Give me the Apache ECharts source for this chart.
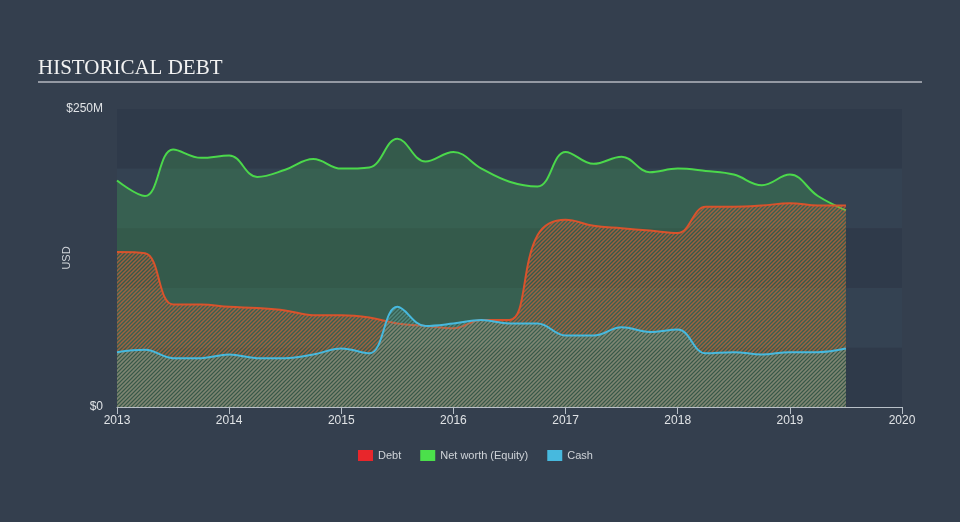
<!DOCTYPE html>
<html>
<head>
<meta charset="utf-8">
<script src="https://cdn.jsdelivr.net/npm/echarts@6/dist/echarts.min.js"></script>
<style>
html,body{margin:0;padding:0;background:#343f4e;}
#c{width:960px;height:522px;}
</style>
</head>
<body>
<div id="c"></div>
<script>
const dates = [2013, 2013.25, 2013.5, 2013.75, 2014, 2014.25, 2014.5, 2014.75, 2015, 2015.25, 2015.5, 2015.75, 2016, 2016.25, 2016.5, 2016.75, 2017, 2017.25, 2017.5, 2017.75, 2018, 2018.25, 2018.5, 2018.75, 2019, 2019.25, 2019.5];
const debt = [130, 129, 86, 86, 84, 83, 81, 77, 77, 75, 70, 68, 66, 73, 73, 144, 157, 152, 150, 148, 146, 168, 168, 169, 171, 169, 169];
const equity = [190, 177, 216, 209, 211, 193, 199, 208, 200, 201, 225, 206, 214, 200, 189, 185, 214, 204, 210, 197, 200, 198, 195, 186, 195, 177, 165];
const cash = [46, 48, 41, 41, 44, 41, 41, 44, 49, 45, 84, 68, 70, 73, 70, 70, 60, 60, 67, 63, 65, 45, 46, 44, 46, 46, 49];
const seriesNames = ['Debt', 'Net worth (Equity)', 'Cash'];
const yearTicks = [2013, 2014, 2015, 2016, 2017, 2018, 2019, 2020];

function hatch(color) {
  const s = 4;
  const cv = document.createElement('canvas');
  cv.width = s; cv.height = s;
  const ctx = cv.getContext('2d');
  ctx.strokeStyle = color;
  ctx.lineWidth = 1.5;
  ctx.beginPath();
  ctx.moveTo(0, s); ctx.lineTo(s, 0);
  ctx.moveTo(-1, 1); ctx.lineTo(1, -1);
  ctx.moveTo(s - 1, s + 1); ctx.lineTo(s + 1, s - 1);
  ctx.stroke();
  return { image: cv, repeat: 'repeat' };
}
const pair = arr => dates.map((d, i) => [d, arr[i]]);

const chart = echarts.init(document.getElementById('c'), null, { renderer: 'canvas' });
chart.setOption({
  backgroundColor: '#343f4e',
  animation: false,
  title: {
    text: 'HISTORICAL DEBT', left: 38, top: 58, padding: 0,
    textStyle: { fontFamily: 'Liberation Serif', fontSize: 21, fontWeight: 'normal', color: '#f2f2f2' }
  },
  graphic: [{
    type: 'line', shape: { x1: 38, y1: 82, x2: 922, y2: 82 },
    style: { stroke: '#b4b9c0', lineWidth: 1.5 }
  }],
  legend: {
    top: 450, left: 358, padding: 0, itemWidth: 15, itemHeight: 11, itemGap: 19, icon: 'rect',
    textStyle: { color: '#d0d4d9', fontSize: 11, fontFamily: 'Liberation Sans', padding: [0, 0, 0, 0] },
    data: seriesNames
  },
  grid: { left: 117, right: 58, top: 109, bottom: 115 },
  xAxis: {
    type: 'value', min: 2013, max: 2020, interval: 1,
    axisLine: { lineStyle: { color: '#b8c0c8', width: 1 } },
    axisTick: { length: 7, lineStyle: { color: '#b8c0c8' } },
    splitLine: { show: false },
    axisLabel: { color: '#e0e3e6', fontSize: 12, fontFamily: 'Liberation Sans', margin: 8,
      formatter: v => yearTicks.includes(v) ? String(v) : '' }
  },
  yAxis: {
    type: 'value', min: 0, max: 250, interval: 50,
    name: 'USD', nameLocation: 'middle', nameGap: 45, nameRotate: 90, nameMoveOverlap: false,
    nameTextStyle: { color: '#d0d4d9', fontSize: 11, fontFamily: 'Liberation Sans' },
    axisLine: { show: false }, axisTick: { show: false },
    splitLine: { show: false },
    splitArea: { show: true, areaStyle: { color: ['#2f3a4a', '#344252'] } },
    axisLabel: { color: '#e0e3e6', fontSize: 12, fontFamily: 'Liberation Sans', margin: 14,
      formatter: v => v === 0 ? '$0' : (v === 250 ? '$250M' : '') }
  },
  series: [
    {
      name: 'Net worth (Equity)', type: 'line', data: pair(equity), smooth: 0.4, showSymbol: false, z: 2,
      itemStyle: { color: '#4be04b' },
      lineStyle: { color: '#4bd84b', width: 2 },
      areaStyle: { color: 'rgba(62,160,80,0.45)', origin: 'start' }
    },
    {
      name: 'Debt', type: 'line', data: pair(debt), smooth: 0.4, showSymbol: false, z: 3,
      itemStyle: { color: '#e8262b' },
      lineStyle: { color: '#d9532c', width: 2 },
      areaStyle: { color: hatch('rgba(215,100,56,0.92)'), origin: 'start' }
    },
    {
      name: 'Cash', type: 'line', data: pair(cash), smooth: 0.4, showSymbol: false, z: 4,
      itemStyle: { color: '#47b9de' },
      lineStyle: { color: '#47b9de', width: 2 },
      areaStyle: { color: hatch('rgba(100,162,155,0.85)'), origin: 'start' }
    }
  ]
});
</script>
</body>
</html>
